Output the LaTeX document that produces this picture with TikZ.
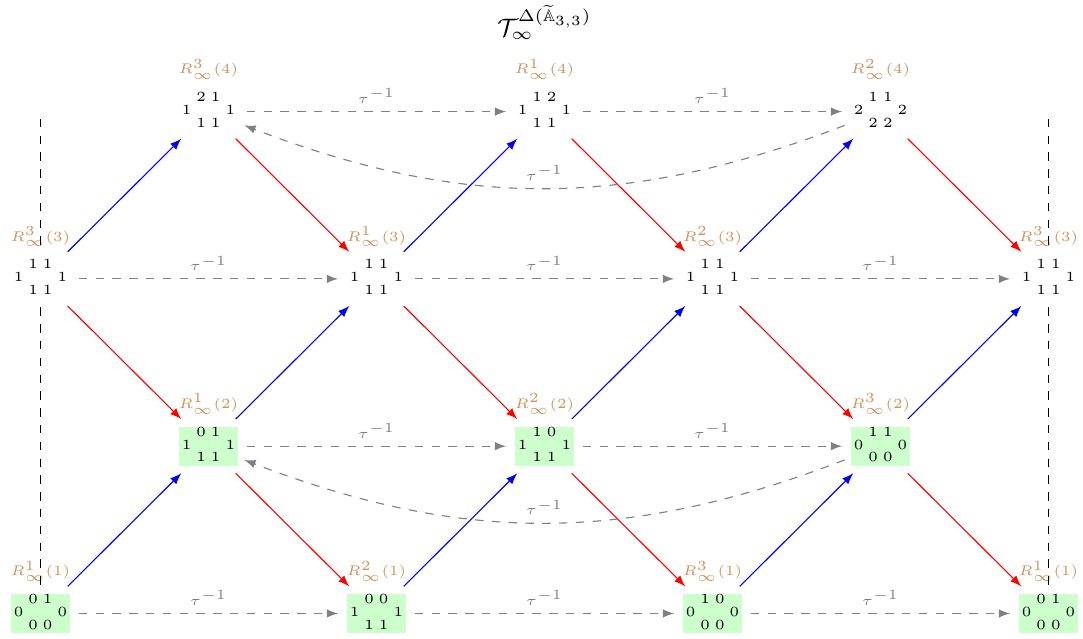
\documentclass[tikz,border=0pt]{standalone}
\usepackage{amssymb}
\usetikzlibrary{arrows, positioning}

\definecolor{labbrown}{RGB}{204,146,92}

% dimension vector laid out as a small diamond
\newcommand{\dimvec}[7]{{\setlength{\fboxsep}{0pt}\colorbox{#1}{\setlength{\tabcolsep}{0pt}\renewcommand{\arraystretch}{0.72}%
  \begin{tabular}{@{\hspace{1pt}}c@{\hspace{1.8pt}}c@{\hspace{1.8pt}}c@{\hspace{1.8pt}}c@{\hspace{1pt}}}
   & #2 & #3 & \\
  #4 & & & #5 \\
   & #6 & #7 &
  \end{tabular}}}}

\begin{document}
\begin{tikzpicture}[node distance=2.1cm and 2.109cm, on grid, >=latex,
    mod/.style={circle, inner sep=0pt, minimum size=0.95cm, font=\tiny},
    rlab/.style={font=\tiny, text=labbrown, label distance=-5.8pt},
    blu/.style={->, blue},
    rd/.style={->, red},
    tau/.style={->, gray, dashed},
    taulab/.style={above=1pt, font=\tiny, text=gray, inner sep=1.7pt},
    guide/.style={dashed, line width=0.35pt, shorten <=-3.5pt, shorten >=-3.5pt}]

  \useasboundingbox (-0.508,-0.308) rectangle (13.087,7.701);

  % bottom two rows
  \node[mod, label={[rlab]above:$R^{1}_{\infty}(1)$}] (m10) at (0,0) {\dimvec{green!20}{0}{1}{0}{0}{0}{0}};
  \node[mod, above right=of m10, label={[rlab]above:$R^{1}_{\infty}(2)$}] (m21) {\dimvec{green!20}{0}{1}{1}{1}{1}{1}};
  \node[mod, below right=of m21, label={[rlab]above:$R^{2}_{\infty}(1)$}] (m12) {\dimvec{green!20}{0}{0}{1}{1}{1}{1}};
  \node[mod, above right=of m12, label={[rlab]above:$R^{2}_{\infty}(2)$}] (m23) {\dimvec{green!20}{1}{0}{1}{1}{1}{1}};
  \node[mod, below right=of m23, label={[rlab]above:$R^{3}_{\infty}(1)$}] (m14) {\dimvec{green!20}{1}{0}{0}{0}{0}{0}};
  \node[mod, above right=of m14, label={[rlab]above:$R^{3}_{\infty}(2)$}] (m25) {\dimvec{green!20}{1}{1}{0}{0}{0}{0}};
  \node[mod, below right=of m25, label={[rlab]above:$R^{1}_{\infty}(1)$}] (m16) {\dimvec{green!20}{0}{1}{0}{0}{0}{0}};

  % upper two rows
  \node[mod, above left=of m21, label={[rlab]above:$R^{3}_{\infty}(3)$}] (m30) {\dimvec{white}{1}{1}{1}{1}{1}{1}};
  \node[mod, above right=of m21, label={[rlab]above:$R^{1}_{\infty}(3)$}] (m32) {\dimvec{white}{1}{1}{1}{1}{1}{1}};
  \node[mod, above right=of m23, label={[rlab]above:$R^{2}_{\infty}(3)$}] (m34) {\dimvec{white}{1}{1}{1}{1}{1}{1}};
  \node[mod, above right=of m25, label={[rlab]above:$R^{3}_{\infty}(3)$}] (m36) {\dimvec{white}{1}{1}{1}{1}{1}{1}};
  \node[mod, above right=of m30, label={[rlab]above:$R^{3}_{\infty}(4)$}] (m41) {\dimvec{white}{2}{1}{1}{1}{1}{1}};
  \node[mod, above right=of m32, label={[rlab]above:$R^{1}_{\infty}(4)$}] (m43) {\dimvec{white}{1}{2}{1}{1}{1}{1}};
  \node[mod, above right=of m34, label={[rlab]above:$R^{2}_{\infty}(4)$}] (m45) {\dimvec{white}{1}{1}{2}{2}{2}{2}};

  \node[above=1.12cm of m43, font=\small] (title) {$\mathcal{T}_{\infty}^{\Delta(\widetilde{\mathbb{A}}_{3,3})}$};

  % identified columns
  \coordinate[above=2.01cm of m30] (gl);
  \coordinate[above=2.01cm of m36] (gr);
  \draw[guide, shorten <=0pt] (gl) -- (m30);
  \draw[guide] (m30) -- (m10);
  \draw[guide, shorten <=0pt] (gr) -- (m36);
  \draw[guide] (m36) -- (m16);

  % irreducible maps
  \draw[blu] (m10) -- (m21);
  \draw[blu] (m21) -- (m32);
  \draw[blu] (m30) -- (m41);
  \draw[blu] (m32) -- (m43);
  \draw[blu] (m12) -- (m23);
  \draw[blu] (m23) -- (m34);
  \draw[blu] (m34) -- (m45);
  \draw[blu] (m14) -- (m25);
  \draw[blu] (m25) -- (m36);

  \draw[rd] (m41) -- (m32);
  \draw[rd] (m30) -- (m21);
  \draw[rd] (m21) -- (m12);
  \draw[rd] (m43) -- (m34);
  \draw[rd] (m32) -- (m23);
  \draw[rd] (m23) -- (m14);
  \draw[rd] (m45) -- (m36);
  \draw[rd] (m34) -- (m25);
  \draw[rd] (m25) -- (m16);

  % inverse translate
  \draw[tau] (m10) -- node[taulab]{$\tau^{-1}$} (m12);
  \draw[tau] (m12) -- node[taulab]{$\tau^{-1}$} (m14);
  \draw[tau] (m14) -- node[taulab]{$\tau^{-1}$} (m16);
  \draw[tau] (m21) -- node[taulab]{$\tau^{-1}$} (m23);
  \draw[tau] (m23) -- node[taulab]{$\tau^{-1}$} (m25);
  \draw[tau] (m30) -- node[taulab]{$\tau^{-1}$} (m32);
  \draw[tau] (m32) -- node[taulab]{$\tau^{-1}$} (m34);
  \draw[tau] (m34) -- node[taulab]{$\tau^{-1}$} (m36);
  \draw[tau] (m41) -- node[taulab]{$\tau^{-1}$} (m43);
  \draw[tau] (m43) -- node[taulab]{$\tau^{-1}$} (m45);
  \draw[tau] (m45) to[bend left=21] node[taulab]{$\tau^{-1}$} (m41);
  \draw[tau] (m25) to[bend left=21] node[taulab]{$\tau^{-1}$} (m21);
\end{tikzpicture}
\end{document}
